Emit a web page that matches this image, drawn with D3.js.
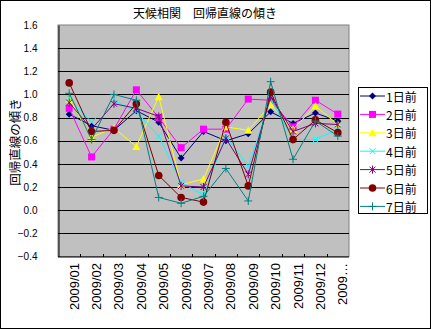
<!DOCTYPE html>
<html>
<head>
<meta charset="utf-8">
<script src="https://cdn.jsdelivr.net/npm/d3@7/dist/d3.min.js"></script>
<style>
  html, body { margin: 0; padding: 0; background: #fff; }
  svg { display: block; }
  text { font-family: "Liberation Sans", Arial, "Noto Sans CJK JP", sans-serif; }
  .jp { font-family: "Noto Sans CJK JP", sans-serif; }
</style>
</head>
<body>
<svg id="chart" width="431" height="329"></svg>
<script>
// Monthly categories (the last one is a truncated label)
const categories = ["2009/01","2009/02","2009/03","2009/04","2009/05","2009/06",
                    "2009/07","2009/08","2009/09","2009/10","2009/11","2009/12","2009…"];

// Regression slope for each lag (days before)
const lag1 = [0.83, 0.73, 0.69, 0.86, 0.76, 0.45, 0.68, 0.60, 0.66, 0.85, 0.75, 0.84, 0.77];
const lag2 = [0.88, 0.46, 0.70, 1.04, 0.80, 0.54, 0.70, 0.70, 0.96, 0.95, 0.72, 0.95, 0.83];
const lag3 = [0.96, 0.63, 0.71, 0.55, 0.98, 0.22, 0.27, 0.72, 0.69, 0.91, 0.70, 0.90, 0.74];
const lag4 = [0.97, 0.76, 0.95, 0.85, 0.64, 0.24, 0.13, 0.64, 0.38, 0.96, 0.61, 0.61, 0.70];
const lag5 = [0.93, 0.70, 0.92, 0.88, 0.81, 0.21, 0.20, 0.62, 0.31, 0.98, 0.68, 0.75, 0.74];
const lag6 = [1.10, 0.68, 0.69, 0.92, 0.30, 0.11, 0.07, 0.76, 0.21, 1.02, 0.61, 0.78, 0.67];
const lag7 = [1.01, 0.61, 1.00, 0.95, 0.11, 0.06, 0.12, 0.36, 0.08, 1.11, 0.44, 0.77, 0.64];

const seriesNames = ["1日前","2日前","3日前","4日前","5日前","6日前","7日前"];
const yTicks = [-0.4,-0.2,0.0,0.2,0.4,0.6,0.8,1.0,1.2,1.4,1.6];

const titleText = "天候相関　回帰直線の傾き";
const yLabelText = "回帰直線の傾き";

const seriesValues = [lag1, lag2, lag3, lag4, lag5, lag6, lag7];
const colors = ["#000080","#ff00ff","#ffff00","#00ffff","#800080","#800000","#008080"];
const markers = ["diamond","square","triangle","x","asterisk","circle","plus"];

const svg = d3.select("#chart");
const W = 431, H = 329;
const plot = { left: 58, right: 349, top: 25, bottom: 256.5 };

// outer chart border
svg.append("rect").attr("x", 0.5).attr("y", 0.5).attr("width", W - 1).attr("height", H - 1)
  .attr("fill", "#fff").attr("stroke", "#000");

const x = d3.scaleBand().domain(categories).range([plot.left, plot.right]).padding(0);
const y = d3.scaleLinear().domain([-0.4, 1.6]).range([plot.bottom, plot.top]);
const cx = c => x(c) + x.bandwidth() / 2;

// plot area
svg.append("rect").attr("x", plot.left).attr("y", plot.top)
  .attr("width", plot.right - plot.left).attr("height", plot.bottom - plot.top)
  .attr("fill", "#c0c0c0").attr("stroke", "#808080");

// horizontal gridlines
svg.append("g").selectAll("line").data(yTicks.filter(t => t > -0.4 && t < 1.6)).join("line")
  .attr("x1", plot.left).attr("x2", plot.right)
  .attr("y1", d => Math.round(y(d)) + 0.5).attr("y2", d => Math.round(y(d)) + 0.5)
  .attr("stroke", "#000").attr("stroke-width", 1);

// y axis
const yAxis = d3.axisLeft(y).tickValues(yTicks).tickFormat(d3.format(".1f")).tickSize(0).tickPadding(21);
const gy = svg.append("g").attr("transform", `translate(${plot.left + 0.5},0)`).call(yAxis);
gy.select(".domain").attr("stroke", "#000");
gy.selectAll(".tick text").attr("font-size", 10).attr("fill", "#000")
  .text(d => d3.format(".1f")(d).replace("-", "−"));

// x axis (ticks between categories)
const gx = svg.append("g").attr("transform", `translate(0,${plot.bottom + 0.5})`);
gx.append("line").attr("x1", plot.left).attr("x2", plot.right).attr("stroke", "#000");
gx.selectAll("line.tk").data(categories.slice(1)).join("line").attr("class", "tk")
  .attr("x1", d => Math.round(x(d)) + 0.5).attr("x2", d => Math.round(x(d)) + 0.5)
  .attr("y1", -3).attr("y2", 0).attr("stroke", "#000");
gx.selectAll("text").data(categories).join("text")
  .attr("transform", d => `translate(${cx(d) + 5},6) rotate(-90)`)
  .attr("text-anchor", "end").attr("dominant-baseline", "central")
  .attr("font-size", 13).attr("fill", "#000").text(d => d);

// title and axis label
svg.append("text").attr("class", "jp").attr("x", 205).attr("y", 18).attr("text-anchor", "middle")
  .attr("font-size", 12).attr("fill", "#000").text(titleText);
svg.append("text").attr("class", "jp").attr("transform", "translate(14,142) rotate(-90)")
  .attr("text-anchor", "middle").attr("dominant-baseline", "central")
  .attr("font-size", 12.5).attr("fill", "#000").text(yLabelText);

// marker drawing
function drawMarker(g, type, color, px, py) {
  const s = g.append("g").attr("transform", `translate(${px},${py})`);
  switch (type) {
    case "diamond":
      s.append("path").attr("d", "M0,-3.5L3.5,0L0,3.5L-3.5,0Z").attr("fill", color); break;
    case "square":
      s.append("rect").attr("x", -3.5).attr("y", -3.5).attr("width", 7).attr("height", 7).attr("fill", color); break;
    case "triangle":
      s.append("path").attr("d", "M0,-4L4,3.5L-4,3.5Z").attr("fill", color); break;
    case "x":
      s.append("path").attr("d", "M-3,-3L3,3M3,-3L-3,3").attr("stroke", color).attr("stroke-width", 1); break;
    case "asterisk":
      s.append("path").attr("d", "M-3,-3L3,3M3,-3L-3,3M0,-4L0,4").attr("stroke", color).attr("stroke-width", 1); break;
    case "circle":
      s.append("circle").attr("r", 3.8).attr("fill", color); break;
    case "plus":
      s.append("path").attr("d", "M-4,0L4,0M0,-4L0,4").attr("stroke", color).attr("stroke-width", 1); break;
  }
}

const line = d3.line().x((d, i) => cx(categories[i])).y(d => y(d));
seriesValues.forEach((vals, si) => {
  const g = svg.append("g");
  g.append("path").datum(vals).attr("d", line).attr("fill", "none")
    .attr("stroke", colors[si]).attr("stroke-width", 1);
  vals.forEach((v, i) => drawMarker(g, markers[si], colors[si], cx(categories[i]), y(v)));
});

// legend
const lg = svg.append("g");
lg.append("rect").attr("x", 358.5).attr("y", 87.5).attr("width", 69).attr("height", 126)
  .attr("fill", "#fff").attr("stroke", "#000");
seriesNames.forEach((name, i) => {
  const ly = 96 + i * 18.4;
  lg.append("line").attr("x1", 360).attr("x2", 385).attr("y1", ly).attr("y2", ly)
    .attr("stroke", colors[i]).attr("stroke-width", 1);
  drawMarker(lg, markers[i], colors[i], 372.5, ly);
  lg.append("text").attr("class", "jp").attr("x", 386).attr("y", ly).attr("dominant-baseline", "central")
    .attr("font-size", 12).attr("fill", "#000").text(name);
});
</script>
</body>
</html>
